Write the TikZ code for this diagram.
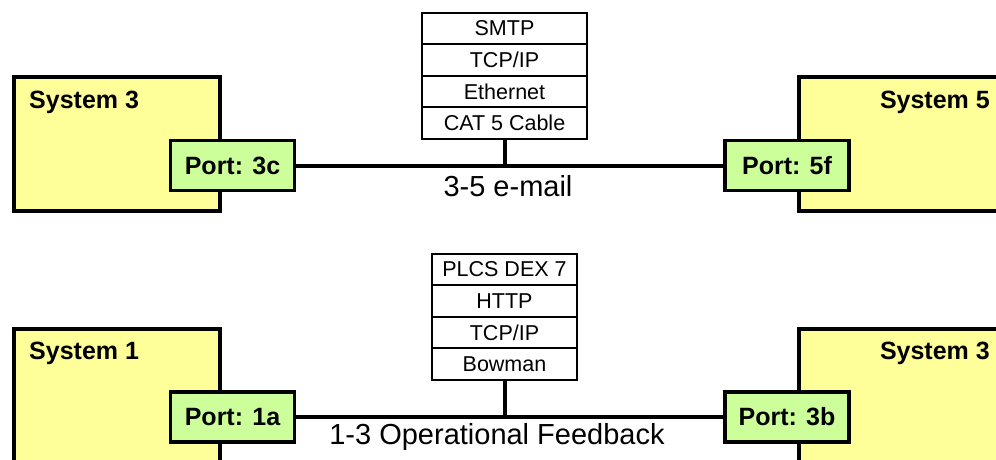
\documentclass[tikz,border=0pt]{standalone}
\usepackage{fontspec}
\setmainfont{Liberation Sans}
\definecolor{sysyellow}{RGB}{255,255,153}
\definecolor{portgreen}{RGB}{204,255,153}
\begin{document}
\begin{tikzpicture}[x=1pt,y=-1pt,
  sysbox/.style={draw=black,line width=4pt,fill=sysyellow,rectangle,inner sep=0pt},
  systitle/.style={font=\fontsize{25}{30}\selectfont\bfseries,inner sep=0pt},
  portbox/.style={draw=black,line width=3.3pt,fill=portgreen,rectangle,inner sep=0pt,
    minimum width=124pt,minimum height=50pt,font=\fontsize{25}{30}\selectfont\bfseries},
  layer/.style={draw=black,line width=2.2pt,fill=white,rectangle,inner sep=0pt,
    minimum height=31.5pt,font=\fontsize{21.5}{26}\selectfont},
  conn/.style={draw=black,line width=4pt},
  linklabel/.style={font=\fontsize{29}{34}\selectfont,inner sep=0pt}]
\useasboundingbox (0,0) rectangle (996,460);
\clip (0,0) rectangle (996,460);

% ---- upper link: System 3 to System 5 ----
\node[sysbox,minimum width=206pt,minimum height=134pt,anchor=north west] (sysA) at (12,75) {};
\node[systitle,anchor=west] (sysAt) at (29,102) {System 3};
\node[sysbox,minimum width=206pt,minimum height=134pt,anchor=north west] (sysB) at (797,75) {};
\node[systitle,anchor=east] (sysBt) at (990,102) {System 5};
\node[portbox] (p3c) at (232.5,165.5) {Port: 3c};
\node[portbox] (p5f) at (787,165.5) {Port: 5f};

\node[layer,minimum width=165pt] (smtp) at (504.5,28.5) {SMTP};
\node[layer,minimum width=165pt] (tcpA) at (504.5,60) {TCP/IP};
\node[layer,minimum width=165pt] (eth) at (504.5,91.5) {Ethernet};
\node[layer,minimum width=165pt] (cat) at (504.5,123) {CAT 5 Cable};

\draw[conn] (p3c.east) -- (p5f.west);
\draw[conn] (cat.south) -- (cat.south |- p3c.east);
\node[linklabel] (lblA) at (508,186) {3-5 e-mail};

% ---- lower link: System 1 to System 3 ----
\node[sysbox,minimum width=206pt,minimum height=160pt,anchor=north west] (sysC) at (12,327) {};
\node[systitle,anchor=west] (sysCt) at (29,353) {System 1};
\node[sysbox,minimum width=206pt,minimum height=160pt,anchor=north west] (sysD) at (797,327) {};
\node[systitle,anchor=east] (sysDt) at (990,353) {System 3};
\node[portbox] (p1a) at (232.5,417) {Port: 1a};
\node[portbox] (p3b) at (787,417) {Port: 3b};

\node[layer,minimum width=145pt] (plcs) at (504.5,269.5) {PLCS DEX 7};
\node[layer,minimum width=145pt] (http) at (504.5,301) {HTTP};
\node[layer,minimum width=145pt] (tcpB) at (504.5,332.5) {TCP/IP};
\node[layer,minimum width=145pt] (bow) at (504.5,364) {Bowman};

\draw[conn] (p1a.east) -- (p3b.west);
\draw[conn] (bow.south) -- (bow.south |- p1a.east);
\node[linklabel] (lblB) at (497,437) {1-3 Operational Feedback};
\end{tikzpicture}
\end{document}
